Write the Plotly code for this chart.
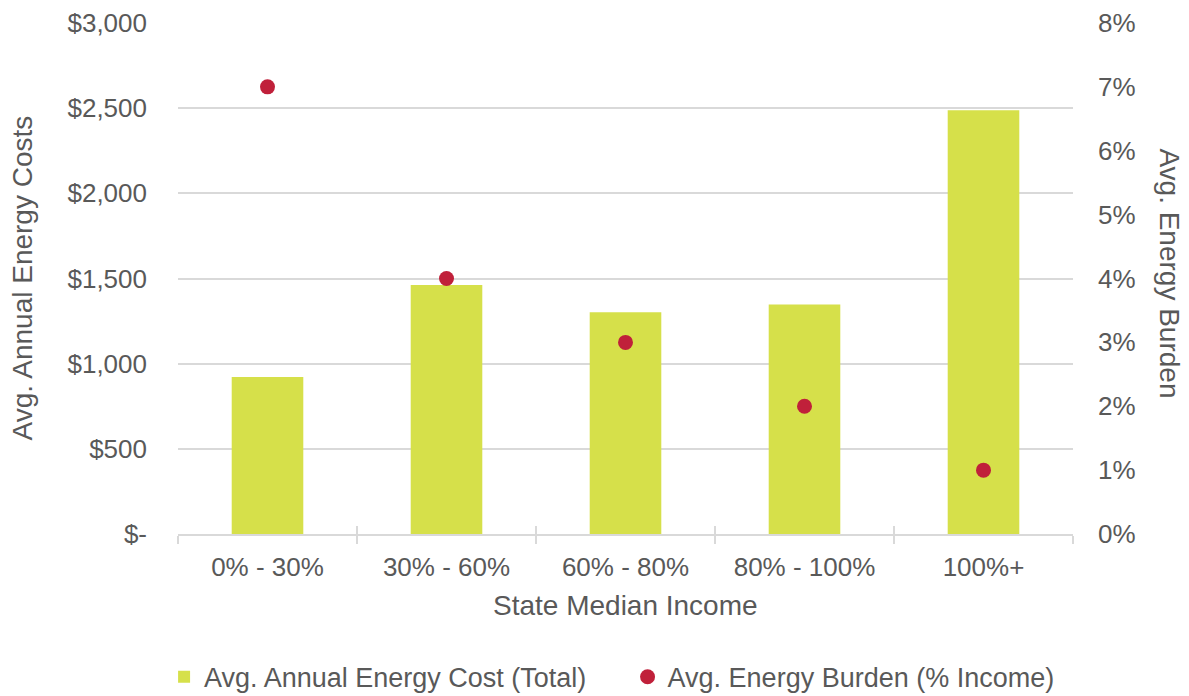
import plotly.graph_objects as go

# Income bands (share of state median income)
categories = ["0% - 30%", "30% - 60%", "60% - 80%", "80% - 100%", "100%+"]
# Average annual household energy cost, USD
annual_cost = [922, 1462, 1302, 1348, 2488]
# Average energy burden, share of household income
energy_burden = [0.07, 0.04, 0.03, 0.02, 0.01]

cost_ticks = [0, 500, 1000, 1500, 2000, 2500, 3000]
cost_tick_text = ["$-", "$500", "$1,000", "$1,500", "$2,000", "$2,500", "$3,000"]
burden_ticks = [0, 0.01, 0.02, 0.03, 0.04, 0.05, 0.06, 0.07, 0.08]
burden_tick_text = ["0%", "1%", "2%", "3%", "4%", "5%", "6%", "7%", "8%"]

FONT = "Liberation Sans, Arial, sans-serif"
TEXT = "#595959"
GRID = "#d9d9d9"
BAR = "#d6e04a"
DOT = "#c0203a"
FS = 26       # tick labels
FS_TITLE = 28 # axis titles
FS_LEG = 27   # legend entries

fig = go.Figure()
fig.add_trace(go.Bar(
    x=categories, y=annual_cost, name="Avg. Annual Energy Cost (Total)",
    marker=dict(color=BAR, line=dict(width=0)), width=0.4,
    xaxis="x", yaxis="y", legend="legend",
))
fig.add_trace(go.Scatter(
    x=categories, y=energy_burden, name="Avg. Energy Burden (% Income)",
    mode="markers", marker=dict(color=DOT, size=15),
    xaxis="x", yaxis="y2", legend="legend2",
))
# helper trace carrying the categories for the upper half of the cross tick marks
fig.add_trace(go.Scatter(
    x=categories, y=annual_cost, mode="markers", marker=dict(opacity=0),
    showlegend=False, hoverinfo="skip", xaxis="x2", yaxis="y",
))

legend_common = dict(
    orientation="h", xanchor="left", xref="container",
    y=0.027, yanchor="middle", yref="container",
    font=dict(size=FS_LEG, color=TEXT), bgcolor="rgba(0,0,0,0)",
)

fig.update_layout(
    width=1189, height=696,
    margin=dict(l=178, r=116, t=23, b=162, autoexpand=False),
    paper_bgcolor="white", plot_bgcolor="white",
    font=dict(family=FONT, size=FS, color=TEXT),
    bargap=0.6,
    xaxis=dict(
        type="category", categoryorder="array", categoryarray=categories,
        range=[-0.5, 4.5], showgrid=False, zeroline=False,
        showline=True, linecolor=GRID, linewidth=1.5,
        ticks="outside", tickson="boundaries", ticklen=8, tickcolor=GRID, tickwidth=1.5,
        tickfont=dict(size=FS, color=TEXT), ticklabelstandoff=9,
    ),
    xaxis2=dict(
        type="category", categoryorder="array", categoryarray=categories,
        range=[-0.5, 4.5], overlaying="x", anchor="y", side="bottom",
        showgrid=False, zeroline=False, showline=False,
        ticks="inside", tickson="boundaries", ticklen=8, tickcolor=GRID, tickwidth=1.5,
        showticklabels=False,
    ),
    yaxis=dict(
        range=[0, 3000], tickvals=cost_ticks, ticktext=cost_tick_text,
        showgrid=True, gridcolor=GRID, gridwidth=1.5, zeroline=False,
        showline=False, ticks="", tickfont=dict(size=FS, color=TEXT),
        ticklabelstandoff=30,
    ),
    yaxis2=dict(
        range=[0, 0.08], tickvals=burden_ticks, ticktext=burden_tick_text,
        overlaying="y", side="right", anchor="x",
        showgrid=False, zeroline=False, showline=False, ticks="",
        tickfont=dict(size=FS, color=TEXT), ticklabelstandoff=24,
    ),
    legend=dict(x=0.138, **legend_common),
    legend2=dict(x=0.5278, **legend_common),
    annotations=[
        dict(text="Avg. Annual Energy Costs", textangle=-90, xref="paper", yref="paper",
             x=0, y=0.5, xshift=-156, xanchor="center", yanchor="middle",
             showarrow=False, font=dict(size=FS_TITLE, color=TEXT)),
        dict(text="Avg. Energy Burden", textangle=90, xref="paper", yref="paper",
             x=1, y=0.51, xshift=97, xanchor="center", yanchor="middle",
             showarrow=False, font=dict(size=FS_TITLE, color=TEXT)),
        dict(text="State Median Income", xref="paper", yref="paper",
             x=0.5, y=0, yshift=-71, xanchor="center", yanchor="middle",
             showarrow=False, font=dict(size=FS_TITLE, color=TEXT)),
    ],
)

fig.write_html("out.html")
